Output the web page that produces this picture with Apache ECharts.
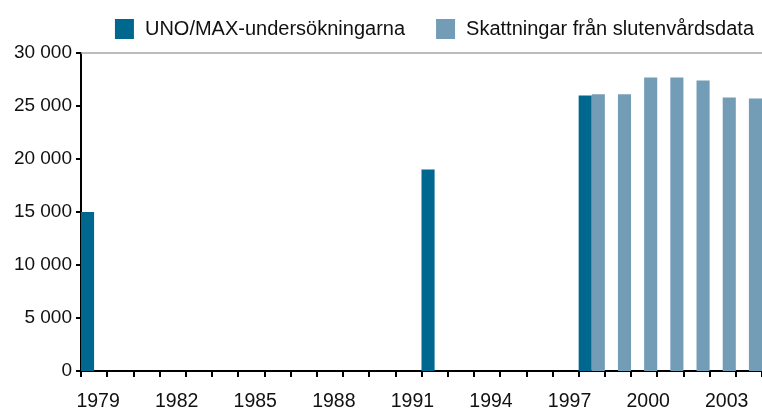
<!DOCTYPE html>
<html>
<head>
<meta charset="utf-8">
<script src="https://cdn.jsdelivr.net/npm/echarts@6/dist/echarts.min.js"></script>
<style>
  html, body { margin: 0; padding: 0; background: #fff; }
  #chart { width: 762px; height: 412px; }
</style>
</head>
<body>
<div id="chart"></div>
<script>
// years on the category axis
const years = ['1979', '1980', '1981', '1982', '1983', '1984', '1985', '1986', '1987', '1988',
    '1989', '1990', '1991', '1992', '1993', '1994', '1995', '1996', '1997', '1998',
    '1999', '2000', '2001', '2002', '2003', '2004'];

// UNO/MAX surveys
const unoMax = [15000, null, null, null, null, null, null, null, null, null,
    null, null, null, 19000, null, null, null, null, null, 26000,
    null, null, null, null, null, null];

// estimates from inpatient data
const skattningar = [null, null, null, null, null, null, null, null, null, null,
    null, null, null, null, null, null, null, null, null, 26100,
    26100, 27700, 27700, 27400, 25800, 25700];

const yTicks = [0, 5000, 10000, 15000, 20000, 25000, 30000];

const font = 'Liberation Sans, Arial, Helvetica, sans-serif';
const chart = echarts.init(document.getElementById('chart'));

chart.setOption({
    animation: false,
    textStyle: { fontFamily: font },
    legend: {
        top: 14,
        right: 3,
        itemWidth: 19,
        itemHeight: 20,
        itemGap: 31,
        icon: 'rect',
        textStyle: { fontSize: 20, color: '#111', fontFamily: font, padding: [0, 0, 0, 6] },
        data: ['UNO/MAX-undersökningarna', 'Skattningar från slutenvårdsdata']
    },
    grid: {
        left: 81,
        right: 0,
        top: 53,
        bottom: 39
    },
    xAxis: [
        {
            type: 'category',
            data: years,
            boundaryGap: true,
            axisLine: { lineStyle: { color: '#000', width: 2 } },
            axisTick: { show: true, interval: 0, length: 6, lineStyle: { color: '#000', width: 2 } },
            axisLabel: {
                interval: 2,
                margin: 21,
                fontSize: 19.5,
                color: '#111',
                padding: [0, 0, 0, 8]
            }
        },
        {
            type: 'category',
            data: years,
            position: 'top',
            axisLine: { lineStyle: { color: '#a6a6a6', width: 1.5 } },
            axisTick: { show: false },
            axisLabel: { show: false }
        }
    ],
    yAxis: {
        type: 'value',
        min: yTicks[0],
        max: yTicks[yTicks.length - 1],
        interval: 5000,
        splitLine: { show: false },
        axisLine: { show: true, lineStyle: { color: '#000', width: 2 } },
        axisTick: { show: true, length: 5, lineStyle: { color: '#000', width: 2 } },
        axisLabel: {
            margin: 9,
            fontSize: 19,
            color: '#111',
            formatter: (v) => String(v).replace(/\B(?=(\d{3})+(?!\d))/g, ' ')
        }
    },
    series: [
        {
            name: 'UNO/MAX-undersökningarna',
            type: 'bar',
            data: unoMax,
            barGap: '0%',
            barCategoryGap: '0%',
            itemStyle: { color: '#00688f' }
        },
        {
            name: 'Skattningar från slutenvårdsdata',
            type: 'bar',
            data: skattningar,
            barGap: '0%',
            barCategoryGap: '0%',
            itemStyle: { color: '#739cb7' }
        }
    ]
});
</script>
</body>
</html>
